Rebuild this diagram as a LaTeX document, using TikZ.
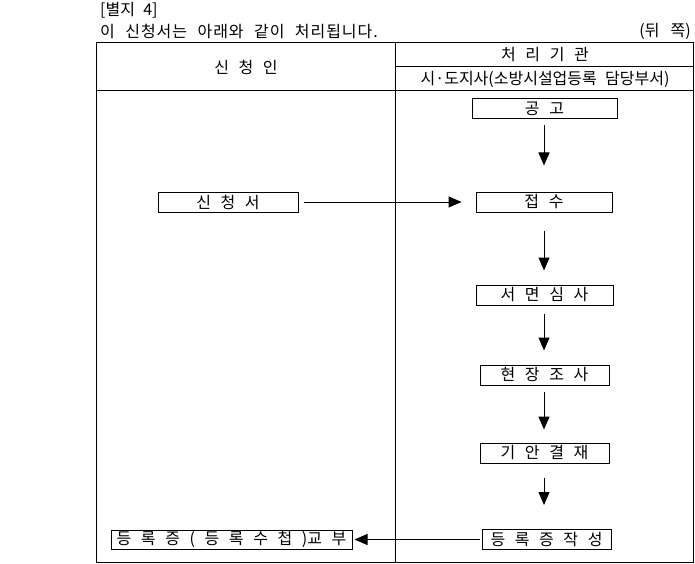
\documentclass[tikz,border=0pt]{standalone}
\usepackage{fontspec}
\setmainfont{Noto Sans CJK KR}
\newfontfamily\kr[WordSpace=2.3]{Noto Sans CJK KR}
\newfontfamily\krw[WordSpace=2.3,LetterSpace=6]{Noto Sans CJK KR}
\usetikzlibrary{arrows.meta}
\newcommand\ks{\hspace{0.6em}}
\tikzset{
  stepbox/.style={draw, line width=1pt, inner sep=0pt, minimum height=20pt, font=\kr\fontsize{16pt}{17pt}\selectfont},
  plain/.style={inner sep=0pt, font=\kr\fontsize{16pt}{17pt}\selectfont},
  conn/.style={line width=1pt, -{Triangle[length=13pt,width=11pt]}},
  frame/.style={line width=1pt}
}
\begin{document}
\begin{tikzpicture}[x=1pt,y=-1pt]
\useasboundingbox (0,0) rectangle (695,564);
% table
\draw[frame] (96,43) rectangle (693,562);
\draw[frame] (395,43) -- (395,562);
\draw[frame] (96,91) -- (693,91);
\draw[frame] (395,67) -- (693,67);
% top texts
\node[plain, anchor=west] (title) at (100,10) {[별지 4]};
\node[plain, anchor=west, font=\krw\fontsize{16pt}{17pt}\selectfont] (intro) at (100,31) {이 신청서는 아래와 같이 처리됩니다.};
\node[plain, anchor=east] (side) at (691,31) {(뒤\hspace{0.7em}쪽)};
% headers
\node[plain] (hApp) at (246,67) {신\ks 청\ks 인};
\node[plain] (hOrg) at (545,55) {처\ks 리\ks 기\ks 관};
\node[plain] (hDept) at (545,79) {시·도지사(소방시설업등록 담당부서)};
% boxes
\node[stepbox, minimum width=145pt] (gong) at (544.5,108.5) {공\ks 고};
\node[stepbox, minimum width=136pt] (jeop) at (544,202) {접\ks 수};
\node[stepbox, minimum width=140pt] (sin) at (228,202) {신\ks 청\ks 서};
\node[stepbox, minimum width=137pt] (seo) at (544.5,295) {서\ks 면\ks 심\ks 사};
\node[stepbox, minimum width=129pt] (hyeon) at (544.5,375) {현\ks 장\ks 조\ks 사};
\node[stepbox, minimum width=129pt] (gian) at (544.5,453) {기\ks 안\ks 결\ks 재};
\node[stepbox, minimum width=129pt] (deung) at (546.5,539.5) {등\ks 록\ks 증\ks 작\ks 성};
\node[stepbox, minimum width=241pt, minimum height=19pt] (gyobu) at (231.5,539.5) {등\ks 록\ks 증\ks (\ks 등\ks 록\ks 수\ks 첩\ks )교\ks 부};
% connectors
\draw[conn, shorten <=6pt, shorten >=26pt] (gong.south -| 544,0) -- (jeop.north -| 544,0);
\draw[conn, shorten <=5pt, shorten >=14pt] (sin.east) -- (jeop.west);
\draw[conn, shorten <=18pt, shorten >=14pt] (jeop.south -| 544,0) -- (seo.north -| 544,0);
\draw[conn, shorten <=8pt, shorten >=14pt] (seo.south -| 544,0) -- (hyeon.north -| 544,0);
\draw[conn, shorten <=6pt, shorten >=13pt] (hyeon.south -| 544,0) -- (gian.north -| 544,0);
\draw[conn, shorten <=14pt, shorten >=24pt] (gian.south -| 544,0) -- (deung.north -| 544,0);
\draw[conn, shorten <=2pt, shorten >=2pt] (deung.west) -- (gyobu.east);
\end{tikzpicture}
\end{document}
